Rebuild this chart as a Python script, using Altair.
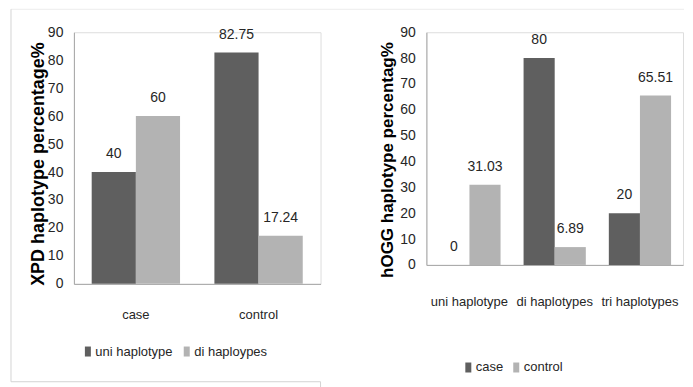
import altair as alt
import pandas as pd

# ---- data ----
xpd_groups = ["case", "control"]
xpd_series = ["uni haplotype", "di haploypes"]
xpd_uni = [40, 82.75]
xpd_di = [60, 17.24]

hogg_groups = ["uni haplotype", "di haplotypes", "tri haplotypes"]
hogg_series = ["case", "control"]
hogg_case = [0, 80, 20]
hogg_control = [31.03, 6.89, 65.51]

y_ticks = [0, 10, 20, 30, 40, 50, 60, 70, 80, 90]
bar_colors = ["#5f5f5f", "#b3b3b3"]

FONT = "Liberation Sans, Arial, sans-serif"
FS = 13
NUM_FS = 14
RECT = "M-0.6,-1H0.6V1H-0.6Z"
AXIS_GRAY = "#a6a6a6"
TEXT = "#262626"


def long_table(groups, series, s1, s2):
    rows = []
    for g, a, b in zip(groups, s1, s2):
        rows.append({"group": g, "series": series[0], "value": a, "label": f"{a:g}"})
        rows.append({"group": g, "series": series[1], "value": b, "label": f"{b:g}"})
    return pd.DataFrame(rows)


def panel(df, groups, series, title, pin, pout, xlab_pad, title_fs,
          title_x, title_y, leg_x, leg_y, col_pad):
    x = alt.X("group:N", sort=groups,
              scale=alt.Scale(paddingInner=pin, paddingOuter=pout),
              axis=alt.Axis(title=None, labelAngle=0, ticks=False, tickSize=0,
                            labelPadding=xlab_pad, domainColor=AXIS_GRAY,
                            labelFont=FONT, labelFontSize=FS, labelColor=TEXT))
    xo = alt.XOffset("series:N", sort=series,
                     scale=alt.Scale(paddingInner=0, paddingOuter=0))
    y = alt.Y("value:Q", scale=alt.Scale(domain=[0, 90], nice=False),
              axis=alt.Axis(values=y_ticks, grid=False, ticks=False, tickSize=0,
                            labelPadding=11, labelFont=FONT, labelFontSize=NUM_FS,
                            labelColor=TEXT, domainColor=AXIS_GRAY,
                            title=title, titleFont=FONT, titleFontSize=title_fs,
                            titleFontWeight="bold", titleColor="black",
                            titleAngle=270, titleX=title_x, titleY=title_y,
                            titleBaseline="middle", titleAlign="center"))
    color = alt.Color("series:N", sort=series,
                      scale=alt.Scale(domain=series, range=bar_colors),
                      legend=alt.Legend(title=None, orient="none", legendX=leg_x,
                                        legendY=leg_y, direction="horizontal",
                                        symbolType=RECT, symbolSize=100,
                                        symbolStrokeWidth=0, symbolOpacity=1,
                                        labelFont=FONT, labelFontSize=FS,
                                        labelColor=TEXT, labelOffset=1,
                                        columnPadding=col_pad, padding=0))
    base = alt.Chart(df)
    bars = base.mark_bar().encode(x=x, xOffset=xo, y=y, color=color)
    text = base.mark_text(baseline="alphabetic", dy=-14, font=FONT,
                          fontSize=NUM_FS, color=TEXT).encode(
        x=x, xOffset=xo, y=y, text="label:N")
    return [bars, text]


frame_df = pd.DataFrame({"k": [0]})


def rule(x1, x2, y1, y2, color):
    return alt.Chart(frame_df).mark_rule(color=color, strokeWidth=1).encode(
        x=alt.value(x1), x2=alt.value(x2), y=alt.value(y1), y2=alt.value(y2))


xpd_df = long_table(xpd_groups, xpd_series, xpd_uni, xpd_di)
hogg_df = long_table(hogg_groups, hogg_series, hogg_case, hogg_control)

left_layers = panel(xpd_df, xpd_groups, xpd_series, "XPD haplotype  percentage%",
                    0.28, 0.145, 25, 18, -35.5, 131.5, 7.5, 313, 7)
frame = [
    rule(-63, 611, -23, -23, "#ececec"),
    rule(-63, -63, -23, 350, "#d4d4d4"),
    rule(-63, 247, 350, 350, "#d4d4d4"),
    rule(247, 247, 350, 356, "#d4d4d4"),
]
left = alt.layer(*frame, *left_layers).properties(width=247, height=252)

right_layers = panel(hogg_df, hogg_groups, hogg_series, "hOGG haplotype percentag%",
                     0.27, 0.14, 31, 17, -38.5, 127.5, 35.5, 329, 6)
right = alt.layer(*right_layers).properties(width=257, height=233)

chart = alt.hconcat(left, right, spacing=106, bounds="flush").resolve_scale(
    color="independent", x="independent", y="independent", xOffset="independent"
).properties(
    padding={"left": 2, "top": 0, "right": 0, "bottom": 0}
).configure_view(stroke=None).configure(background="white")

chart.save("out.html", embed_options={"renderer": "svg", "actions": False})
